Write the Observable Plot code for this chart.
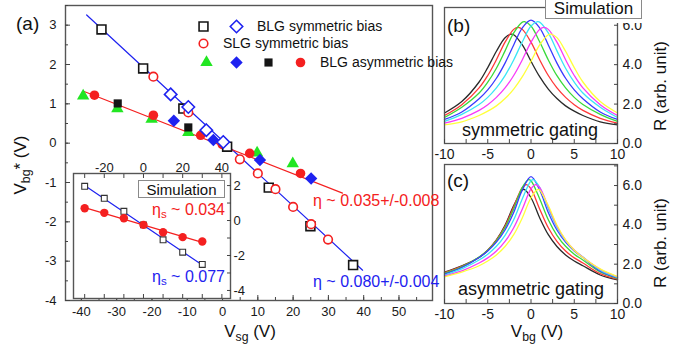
<!DOCTYPE html>
<html><head><meta charset="utf-8">
<script src="https://cdn.jsdelivr.net/npm/d3@7"></script>
<script src="https://cdn.jsdelivr.net/npm/@observablehq/plot@0.6"></script>
<style>
html,body{margin:0;padding:0;background:#fff;}
#fig{position:relative;width:700px;height:356px;overflow:hidden;background:#fff;font-family:Arial,"Liberation Sans",Helvetica,sans-serif;}
.pane{position:absolute;}
.pane svg{max-width:none;display:block;}
.clip{position:absolute;left:0;top:0;width:440px;height:356px;overflow:hidden;}
.lbl{position:absolute;white-space:nowrap;line-height:1;}
.sub{font-size:0.72em;vertical-align:-0.28em;}
.box{position:absolute;border:1px solid #8a8a8a;background:#fff;box-sizing:border-box;display:flex;align-items:center;justify-content:center;line-height:1;color:#111;}
.cover{position:absolute;background:#fff;}
</style></head><body>
<div id="fig"></div>
<script>
// ---------- Panel (a): measured V_bg* vs V_sg ----------
const blgSymSqX = [-34.3, -22.5, -11.1, 1.3, 13.1, 24.9, 37.0];
const blgSymSqY = [2.89, 1.90, 0.88, -0.09, -1.13, -2.11, -3.10];
const blgSymDiX = [-14.7, -9.7, -4.6, 0.2];
const blgSymDiY = [1.24, 0.92, 0.33, 0.03];
const slgSymX = [-19.6, -9.7, 4.9, 10.0, 15.0, 20.0, 25.1, 29.9];
const slgSymY = [1.69, 0.78, -0.41, -0.77, -1.17, -1.62, -2.06, -2.45];
const asymTriX = [-39.5, -29.8, -20.1, -9.7, 9.8, 19.9];
const asymTriY = [1.20, 0.88, 0.61, 0.27, -0.25, -0.52];
const asymDiX = [-13.8, -2.6, 10.6, 25.1];
const asymDiY = [0.57, 0.08, -0.43, -0.90];
const asymSqX = [-29.7, -9.7];
const asymSqY = [1.01, 0.40];
const asymCiX = [-36.3, -19.6, -6.2, -0.1, 7.7, 22.1];
const asymCiY = [1.22, 0.71, 0.20, -0.03, -0.26, -0.77];
const fitSymX = [-38.5, 39.7];
const fitSymY = [3.26, -3.23];
const fitAsymX = [-39.4, 34.0];
const fitAsymY = [1.32, -1.27];
const mainXTicks = [-40, -30, -20, -10, 0, 10, 20, 30, 40, 50];
const mainYTicks = [-4, -3, -2, -1, 0, 1, 2, 3];

// ---------- Inset: simulation ----------
const simX = [-30, -20, -10, 0, 10, 20, 30];
const simSymY = [1.96, 1.27, 0.53, -0.25, -1.10, -1.81, -2.51];
const simAsymY = [0.70, 0.44, 0.13, -0.25, -0.67, -0.95, -1.20];
const insetXTicks = [-20, 0, 20, 40];
const insetYTicks = [-4, -2, 0, 2];

// ---------- Panels (b), (c): simulated R vs V_bg ----------
const xGrid = [-10, -8, -6, -5, -4, -3, -2, -1, 0, 1, 2, 3, 4, 5, 6, 8, 10];
const bBlack   = [1.55,2.13,3.12,3.85,4.68,5.37,5.52,5.00,4.17,3.39,2.76,2.28,1.91,1.64,1.42,1.10,0.95];
const bRed     = [1.42,1.97,2.82,3.45,4.25,5.14,5.79,5.79,5.14,4.25,3.45,2.82,2.34,1.97,1.68,1.28,1.03];
const bGreen   = [1.32,1.84,2.56,3.11,3.82,4.70,5.61,6.16,5.96,5.16,4.24,3.44,2.82,2.34,1.98,1.48,1.12];
const bBlue    = [1.22,1.60,2.27,2.72,3.31,4.08,5.00,5.87,6.26,5.87,5.00,4.08,3.31,2.72,2.27,1.60,1.22];
const bCyan    = [1.12,1.48,1.98,2.34,2.82,3.44,4.24,5.16,5.96,6.16,5.61,4.70,3.82,3.11,2.56,1.84,1.32];
const bMagenta = [1.03,1.28,1.68,1.97,2.34,2.82,3.45,4.25,5.14,5.79,5.79,5.14,4.25,3.45,2.82,1.97,1.42];
const bYellow  = [0.95,1.10,1.42,1.64,1.91,2.28,2.76,3.39,4.17,5.00,5.52,5.37,4.68,3.85,3.12,2.13,1.55];
const bPeakX = [-2.3, -1.5, -0.75, 0, 0.75, 1.5, 2.3];
const bPeakY = [5.55, 5.89, 6.18, 6.26, 6.18, 5.89, 5.55];

const cBlack   = [1.60,1.92,2.34,2.71,3.24,3.98,4.98,5.77,5.38,4.36,3.50,2.90,2.47,2.16,1.92,1.45,1.20];
const cRed     = [1.57,1.89,2.35,2.72,3.22,3.93,4.92,5.90,5.83,4.81,3.85,3.16,2.67,2.32,2.06,1.52,1.24];
const cGreen   = [1.53,1.86,2.36,2.71,3.19,3.86,4.81,5.91,6.24,5.33,4.26,3.47,2.91,2.51,2.21,1.60,1.28];
const cBlue    = [1.49,1.83,2.34,2.67,3.12,3.74,4.63,5.77,6.45,5.77,4.63,3.74,3.12,2.67,2.34,1.65,1.31];
const cCyan    = [1.44,1.76,2.21,2.51,2.91,3.47,4.26,5.33,6.24,5.91,4.81,3.86,3.19,2.71,2.36,1.70,1.33];
const cMagenta = [1.40,1.66,2.06,2.32,2.67,3.16,3.85,4.81,5.83,5.90,4.92,3.93,3.22,2.72,2.35,1.74,1.35];
const cYellow  = [1.36,1.60,1.92,2.16,2.47,2.90,3.50,4.36,5.38,5.77,4.98,3.98,3.24,2.71,2.34,1.76,1.37];
const cPeakX = [-0.8, -0.55, -0.27, 0, 0.27, 0.55, 0.8];
const cPeakY = [5.8, 6.05, 6.3, 6.45, 6.3, 6.05, 5.8];
const rXTicks = [-10, -5, 0, 5, 10];
const rYTicks = [0, 2, 4, 6];

// ---------- styling ----------
const FONT = "Arial, 'Liberation Sans', Helvetica, sans-serif";
const BLUE = "#1e22f0", RED = "#f42020", GREEN = "#22e622", BLACK = "#151515";
const curveColors = ["#2a2a2a", "#ff3838", "#3ada3a", "#3a3aff", "#3ae6f6", "#f83af8", "#ffff3a"];
const P = (xs, ys) => xs.map((x, i) => ({x, y: ys[i]}));
const fmtInt = d => String(d);
const fig = document.getElementById("fig");

function pane(svg, left, top) {
  const d = document.createElement("div");
  d.className = "pane"; d.style.left = left + "px"; d.style.top = top + "px";
  d.appendChild(svg); fig.appendChild(d);
}
function addLabel(html, x, y, {size = 14, color = "#111", anchor = "start", rotate = 0, parent = fig} = {}) {
  const el = document.createElement("div");
  el.className = "lbl"; el.innerHTML = html;
  el.style.left = x + "px"; el.style.top = y + "px";
  el.style.fontSize = size + "px"; el.style.color = color;
  const tx = anchor === "start" ? "0" : anchor === "middle" ? "-50%" : "-100%";
  el.style.transform = `translate(${tx}, -50%)` + (rotate ? ` rotate(${rotate}deg)` : "");
  parent.appendChild(el);
}
function addBox(text, left, top, w, h, size) {
  const el = document.createElement("div");
  el.className = "box"; el.textContent = text;
  Object.assign(el.style, {left: left + "px", top: top + "px", width: w + "px", height: h + "px", fontSize: size + "px"});
  fig.appendChild(el);
}

const dotOpen = (data, symbol, stroke, r) => Plot.dot(data, {x: "x", y: "y", symbol, r, stroke, fill: "white", strokeWidth: 1.6});
const dotFill = (data, symbol, fill, r) => Plot.dot(data, {x: "x", y: "y", symbol, r, fill, stroke: "none"});
// legend symbols placed relative to the frame's top-left corner (page x 65, y 5)
const legendDot = (symbol, px, py, o) => Plot.dot([0], {frameAnchor: "top-left", dx: px - 65, dy: py - 5, symbol, ...o});

// ---------- (a) main ----------
const mainPlot = Plot.plot({
  width: 440, height: 356,
  marginLeft: 65, marginRight: 8, marginTop: 5, marginBottom: 56,
  x: {domain: [-44.5, 59.5], label: null},
  y: {domain: [-4, 3.5], label: null},
  style: {fontFamily: FONT, fontSize: "13px", color: "#1a1a1a", background: "transparent"},
  marks: [
    Plot.line(P(fitSymX, fitSymY), {x: "x", y: "y", stroke: BLUE, strokeWidth: 1.2}),
    Plot.line(P(fitAsymX, fitAsymY), {x: "x", y: "y", stroke: RED, strokeWidth: 1.2}),
    dotFill(P(asymTriX, asymTriY), "triangle", GREEN, 4.6),
    dotFill(P(asymSqX, asymSqY), "square", BLACK, 4.6),
    dotFill(P(asymCiX, asymCiY), "circle", RED, 4.8),
    dotFill(P(asymDiX, asymDiY), "diamond2", BLUE, 5.6),
    dotOpen(P(blgSymSqX, blgSymSqY), "square", BLACK, 5),
    dotOpen(P(slgSymX, slgSymY), "circle", RED, 4.3),
    dotOpen(P(blgSymDiX, blgSymDiY), "diamond2", BLUE, 5.6),
    legendDot("square", 203, 26, {r: 5, fill: "white", stroke: BLACK, strokeWidth: 1.6}),
    legendDot("diamond2", 236, 26, {r: 5.6, fill: "white", stroke: BLUE, strokeWidth: 1.6}),
    legendDot("circle", 203, 43, {r: 4.3, fill: "white", stroke: RED, strokeWidth: 1.6}),
    legendDot("triangle", 206, 62, {r: 4.6, fill: GREEN}),
    legendDot("diamond2", 236, 62, {r: 5.6, fill: BLUE}),
    legendDot("square", 268, 62, {r: 4.6, fill: BLACK}),
    legendDot("circle", 300, 62, {r: 4.8, fill: RED}),
    Plot.frame({stroke: "#555", strokeWidth: 1.4}),
    Plot.axisX(d3.range(-8, 12).map(d => d * 5), {tickSize: -3, fill: "none", stroke: "#444"}),
    Plot.axisX(mainXTicks, {tickSize: -5, fill: "none", stroke: "#444"}),
    Plot.axisX(mainXTicks, {tickSize: 0, tickPadding: 6, tickFormat: fmtInt}),
    Plot.axisY(d3.range(-8, 8).map(d => d / 2), {tickSize: -3, fill: "none", stroke: "#444"}),
    Plot.axisY(mainYTicks, {tickSize: -5, fill: "none", stroke: "#444"}),
    Plot.axisY(mainYTicks, {tickSize: 0, tickPadding: 9, tickFormat: fmtInt})
  ]
});
pane(mainPlot, 0, 0);

// ---------- inset ----------
const insetPlot = Plot.plot({
  width: 200, height: 150,
  marginLeft: 13, marginRight: 30, marginTop: 23, marginBottom: 2,
  x: {domain: [-35.7, 44.4], label: null},
  y: {domain: [-4.46, 2.69], label: null},
  style: {fontFamily: FONT, fontSize: "13px", color: "#1a1a1a", background: "transparent"},
  marks: [
    Plot.frame({fill: "white", stroke: "none"}),
    Plot.linearRegressionY(P(simX, simSymY), {x: "x", y: "y", stroke: BLUE, ci: 0, strokeWidth: 1.2}),
    Plot.linearRegressionY(P(simX, simAsymY), {x: "x", y: "y", stroke: RED, ci: 0, strokeWidth: 1.2}),
    Plot.dot(P(simX, simSymY), {x: "x", y: "y", symbol: "square", r: 3.3, fill: "white", stroke: "#333", strokeWidth: 1.1}),
    Plot.dot(P(simX, simAsymY), {x: "x", y: "y", r: 4.2, fill: RED}),
    Plot.frame({stroke: "#555", strokeWidth: 1.4}),
    Plot.axisX(d3.range(-3, 5).map(d => d * 10), {anchor: "top", tickSize: -4, fill: "none", stroke: "#444"}),
    Plot.axisX(d3.range(-3, 5).map(d => d * 10), {anchor: "bottom", tickSize: -4, fill: "none", stroke: "#444"}),
    Plot.axisX(insetXTicks, {anchor: "top", tickSize: 0, tickPadding: 2, tickFormat: fmtInt}),
    Plot.axisY(d3.range(-4, 3), {anchor: "right", tickSize: -4, fill: "none", stroke: "#444"}),
    Plot.axisY(insetYTicks, {anchor: "right", tickSize: 0, tickPadding: 3, tickFormat: fmtInt})
  ]
});
pane(insetPlot, 60, 150);

// ---------- (b), (c) ----------
function curveMarks(list, pkX, pkY) {
  return list.map((ys, k) => {
    const pts = xGrid.map((x, i) => ({x, y: ys[i]}));
    if (!xGrid.includes(pkX[k])) pts.push({x: pkX[k], y: pkY[k]});
    pts.sort((a, b) => a.x - b.x);
    return Plot.line(pts, {x: "x", y: "y", stroke: curveColors[k], strokeWidth: 1.3, curve: "catmull-rom"});
  });
}
function rPanel(list, pkX, pkY, yMax, height, mt, mb) {
  return Plot.plot({
    width: 270, height,
    marginLeft: 14, marginRight: 83, marginTop: mt, marginBottom: mb,
    x: {domain: [-10, 10], label: null},
    y: {domain: [0, yMax], label: null},
    style: {fontFamily: FONT, fontSize: "14px", color: "#1a1a1a", background: "transparent"},
    marks: [
      ...curveMarks(list, pkX, pkY),
      Plot.frame({stroke: "#555", strokeWidth: 1.3}),
      Plot.axisX(d3.range(-4, 5).map(d => d * 2.5), {tickSize: -4, fill: "none", stroke: "#444"}),
      Plot.axisX(rXTicks, {tickSize: 0, tickPadding: 6, tickFormat: fmtInt}),
      Plot.axisY(d3.range(0, 8).filter(d => d <= yMax), {anchor: "right", tickSize: -4, fill: "none", stroke: "#444"}),
      Plot.axisY(rYTicks, {anchor: "right", tickSize: 0, tickPadding: 5, tickFormat: d => d.toFixed(1)})
    ]
  });
}
pane(rPanel([bBlack, bRed, bGreen, bBlue, bCyan, bMagenta, bYellow], bPeakX, bPeakY, 6.9, 166, 7, 23), 430, 0);
pane(rPanel([cBlack, cRed, cGreen, cBlue, cCyan, cMagenta, cYellow], cPeakX, cPeakY, 7.07, 175, 14, 22), 430, 150);

// ---------- text overlays ----------
const clip = document.createElement("div");
clip.className = "clip"; fig.appendChild(clip);
addLabel("&eta; ~ 0.035+/-0.008", 313, 200.5, {size: 16, color: RED, parent: clip});
addLabel("&eta; ~ 0.080+/-0.004", 313, 282, {size: 16, color: BLUE, parent: clip});

addLabel("BLG symmetric bias", 257, 26, {size: 14});
addLabel("SLG symmetric bias", 223, 43, {size: 14});
addLabel("BLG asymmetric bias", 320, 62, {size: 14});

addLabel("&eta;<span class='sub'>s</span> ~ 0.034", 152, 211, {size: 16, color: RED});
addLabel("&eta;<span class='sub'>s</span> ~ 0.077", 152, 278, {size: 16, color: BLUE});
addBox("Simulation", 138, 180, 87, 18, 15);

addLabel("(a)", 16, 23, {size: 19});
addLabel("(b)", 447, 25, {size: 19});
addLabel("(c)", 447, 180, {size: 19});

addLabel("V<span class='sub'>bg</span>* (V)", 22, 165, {size: 17, anchor: "middle", rotate: -90});
addLabel("V<span class='sub'>sg</span> (V)", 250, 333, {size: 17, anchor: "middle"});
addLabel("R (arb. unit)", 660, 86, {size: 17, anchor: "middle", rotate: -90});
addLabel("R (arb. unit)", 660, 243, {size: 17, anchor: "middle", rotate: -90});
addLabel("V<span class='sub'>bg</span> (V)", 537, 333, {size: 17, anchor: "middle"});

addLabel("symmetric gating", 530, 130, {size: 18, anchor: "middle"});
addLabel("asymmetric gating", 531, 288.5, {size: 18, anchor: "middle"});

const cover = document.createElement("div");
cover.className = "cover";
Object.assign(cover.style, {left: "545px", top: "0px", width: "102px", height: "23px"});
fig.appendChild(cover);
addBox("Simulation", 545, -2, 97, 21, 17);
</script></body></html>
